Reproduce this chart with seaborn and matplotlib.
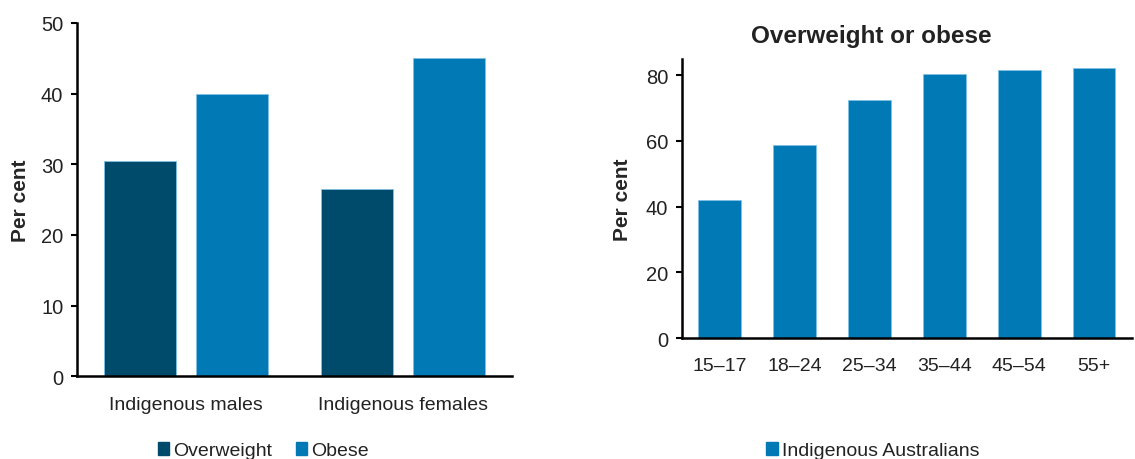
import numpy as np
import pandas as pd
import matplotlib
matplotlib.use("Agg")
import matplotlib.pyplot as plt
import seaborn as sns
from matplotlib.patches import Patch

# data
groups = ["Indigenous males", "Indigenous females"]
overweight = [30.5, 26.5]
obese = [40.0, 45.0]

ages = ["15\u201317", "18\u201324", "25\u201334", "35\u201344", "45\u201354", "55+"]
ow_or_obese = [42.0, 58.7, 72.5, 80.4, 81.5, 82.3]

dark = "#004B6B"
blue = "#0079B5"

sns.set_style("white")
plt.rcParams["font.family"] = ["Liberation Sans", "DejaVu Sans"]
plt.rcParams["text.color"] = "#222222"

fig = plt.figure(figsize=(11.35, 4.6), dpi=100)
ax1 = fig.add_axes([0.068, 0.180, 0.383, 0.768])
ax2 = fig.add_axes([0.601, 0.263, 0.396, 0.607])

df = pd.DataFrame({
    "group": groups * 2,
    "type": ["Overweight"] * 2 + ["Obese"] * 2,
    "value": overweight + obese,
})
sns.barplot(data=df, x="group", y="value", hue="type", palette=[dark, blue],
            width=0.85, gap=0.22, saturation=1, ax=ax1, legend=False)
ax1.set_ylim(0, 50)
ax1.set_xlim(-0.5, 1.5)
ax1.set_yticks(range(0, 51, 10))
ax1.set_xlabel("")
ax1.set_ylabel("Per cent", fontsize=15, fontweight="bold", labelpad=8)

sns.barplot(x=ages, y=ow_or_obese, color=blue, width=0.57, saturation=1, ax=ax2)
ax2.set_ylim(0, 85)
ax2.set_xlim(-0.5, 5.5)
ax2.set_yticks(range(0, 81, 20))
ax2.set_ylabel("Per cent", fontsize=15, fontweight="bold", labelpad=10)
ax2.set_title("Overweight or obese", fontsize=17.5, fontweight="bold", x=0.42, pad=12)

for ax in (ax1, ax2):
    sns.despine(ax=ax)
    for s in ("left", "bottom"):
        ax.spines[s].set_color("black")
        ax.spines[s].set_linewidth(1.8)
    ax.tick_params(axis="y", length=4, width=1.5, color="black", labelsize=14.5,
                   labelcolor="#222222", left=True, pad=6)
    ax.tick_params(axis="x", length=0, labelsize=14, labelcolor="#222222", pad=14)
    for p in ax.patches:
        p.set_edgecolor("#7fc0e6")
        p.set_linewidth(0.6)

fig.legend(handles=[Patch(color=dark, label="Overweight"), Patch(color=blue, label="Obese")],
           loc="center", bbox_to_anchor=(0.232, 0.018), ncol=2, frameon=False,
           fontsize=14, handlelength=0.6, handleheight=0.6, handletextpad=0.2,
           columnspacing=1.2)
fig.legend(handles=[Patch(color=blue, label="Indigenous Australians")],
           loc="center", bbox_to_anchor=(0.769, 0.018), frameon=False,
           fontsize=14, handlelength=0.6, handleheight=0.6, handletextpad=0.2)

fig.savefig("out.png", dpi=100)
